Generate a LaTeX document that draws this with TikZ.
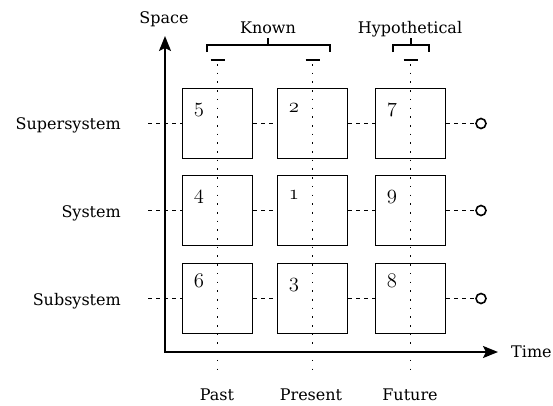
\documentclass[tikz,border=0pt]{standalone}
\usepackage{fontspec}
\setmainfont{DejaVu Serif}
\usetikzlibrary{arrows.meta,calc}
\begin{document}
\begin{tikzpicture}[x=1pt,y=-1pt,
  cell/.style={draw, minimum size=70pt, inner sep=0pt, line width=1.8pt},
  lbl/.style={font=\fontsize{16}{19}\selectfont, inner sep=0pt},
  num/.style={font=\fontsize{20.74}{24}\usefont{OML}{cmm}{m}{it}, anchor=base west, inner sep=0pt},
  link/.style={line width=1.6pt, dash pattern=on 4pt off 4pt},
  guide/.style={line width=1.6pt, dash pattern=on 1.6pt off 7.1pt},
  axis/.style={line width=1.8pt, {Stealth[length=15pt,width=12pt,inset=3pt]}-{Stealth[length=15pt,width=12pt,inset=3pt]}},
  brk/.style={line width=1.6pt},
  endpt/.style={circle, draw, minimum size=10pt, inner sep=0pt, line width=1.6pt}]

\useasboundingbox (0,0) rectangle (553,405);

% grid of cells: rows = supersystem / system / subsystem, columns = past / present / future
\node[cell] (b5) at (217.5,123.5) {};
\node[cell] (b2) at (312.5,123.5) {};
\node[cell] (b7) at (410.5,123.5) {};
\node[cell] (b4) at (217.5,210.5) {};
\node[cell] (b1) at (312.5,210.5) {};
\node[cell] (b9) at (410.5,210.5) {};
\node[cell] (b6) at (217.5,298.5) {};
\node[cell] (b3) at (312.5,298.5) {};
\node[cell] (b8) at (410.5,298.5) {};

\foreach \b/\n in {b5/5,b2/2,b7/7,b4/4,b1/1,b9/9,b6/6,b3/3,b8/8}
  \node[num] at ($(\b.north west)+(12,24.5)$) {\n};

% axes
\coordinate (origin) at (165,352);
\coordinate (ytip) at (165,36);
\coordinate (xtip) at (498,352);
\draw[axis] (ytip) -- (origin) -- (xtip);

\node[lbl, anchor=base] (space) at (164,23) {Space};
\node[lbl, anchor=base west] (time) at (511,357) {Time};

% row labels and their dashed links
\node[lbl, anchor=base east] (sup) at (121,129) {Supersystem};
\node[lbl, anchor=base east] (sys) at (121,217) {System};
\node[lbl, anchor=base east] (sub) at (121,305) {Subsystem};

\coordinate (l1) at (148,123.5);
\coordinate (l2) at (148,210.5);
\coordinate (l3) at (148,298.5);
\node[endpt] (c1) at (481,123.5) {};
\node[endpt] (c2) at (481,210.5) {};
\node[endpt] (c3) at (481,298.5) {};

\draw[link] (l1) -- (b5.west);  \draw[link] (b5.east) -- (b2.west);
\draw[link] (b2.east) -- (b7.west);  \draw[link] (b7.east) -- (c1.west);
\draw[link] (l2) -- (b4.west);  \draw[link] (b4.east) -- (b1.west);
\draw[link] (b1.east) -- (b9.west);  \draw[link] (b9.east) -- (c2.west);
\draw[link] (l3) -- (b6.west);  \draw[link] (b6.east) -- (b3.west);
\draw[link] (b3.east) -- (b8.west);  \draw[link] (b8.east) -- (c3.west);

% time guides with top ticks
\foreach \g/\x in {g1/217.5,g2/312.5,g3/410.5} {
  \coordinate (\g t) at (\x,60);
  \coordinate (\g b) at (\x,370);
  \draw[brk] ($(\g t)+(-7,0)$) -- ($(\g t)+(7,0)$);
  \draw[guide] ($(\g t)+(0,4)$) -- (\g b);
}

\node[lbl, anchor=base] (past) at (217,400) {Past};
\node[lbl, anchor=base] (present) at (311,400) {Present};
\node[lbl, anchor=base] (future) at (410,400) {Future};

% brackets
\node[lbl, anchor=base] (known) at (268,33) {Known};
\node[lbl, anchor=base] (hyp) at (410,33) {Hypothetical};
\draw[brk] (207,52) -- (207,45) -- (330,45) -- (330,52);
\draw[brk] (268,45) -- (268,38);
\draw[brk] (393,52) -- (393,45) -- (429,45) -- (429,52);
\draw[brk] (411,45) -- (411,38);
\end{tikzpicture}
\end{document}
